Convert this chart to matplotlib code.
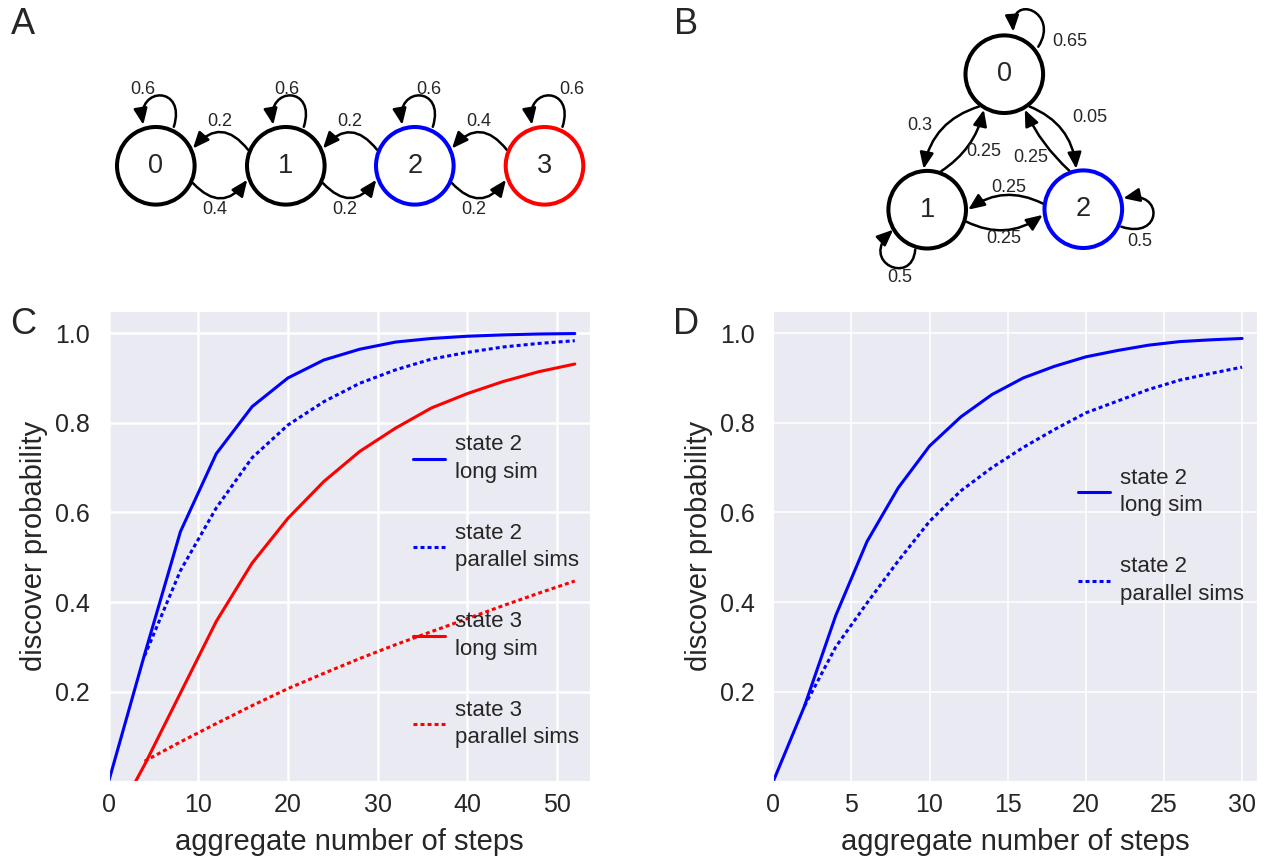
import numpy as np
import matplotlib
matplotlib.use("Agg")
import matplotlib.pyplot as plt
import seaborn as sns
from matplotlib.patches import Circle, FancyArrowPatch
from matplotlib.path import Path

sns.set_style("darkgrid")
plt.rcParams['font.family'] = ['Liberation Sans', 'DejaVu Sans']

# ---- panel C data (chain A) ----
steps_c = [0, 4, 8, 12, 16, 20, 24, 28, 32, 36, 40, 44, 48, 52]
s2_long_c = [0, 0.283, 0.557, 0.731, 0.836, 0.900, 0.940, 0.964, 0.980,
             0.988, 0.993, 0.996, 0.998, 0.999]
steps_par_c = [4, 8, 12, 16, 20, 24, 28, 32, 36, 40, 44, 48, 52]
s2_par_c = [0.28, 0.47, 0.61, 0.722, 0.795, 0.847, 0.888, 0.918, 0.942,
            0.957, 0.969, 0.977, 0.983]
steps_s3_long = [3, 4, 8, 12, 16, 20, 24, 28, 32, 36, 40, 44, 48, 52]
s3_long_c = [0, 0.037, 0.197, 0.357, 0.487, 0.587, 0.669, 0.736, 0.788,
             0.833, 0.865, 0.892, 0.914, 0.931]
s3_par_c = [0.045, 0.088, 0.129, 0.169, 0.207, 0.241, 0.274, 0.305, 0.334,
            0.363, 0.392, 0.420, 0.447]

# ---- panel D data (chain B) ----
steps_d = [0, 2, 4, 6, 8, 10, 12, 14, 16, 18, 20, 22, 24, 26, 28, 30]
s2_long_d = [0, 0.168, 0.37, 0.535, 0.655, 0.748, 0.813, 0.863, 0.900,
             0.926, 0.947, 0.961, 0.973, 0.981, 0.985, 0.988]
steps_par_d = [2, 4, 6, 8, 10, 12, 14, 16, 18, 20, 22, 24, 26, 28, 30]
s2_par_d = [0.168, 0.30, 0.398, 0.492, 0.58, 0.648, 0.700, 0.745, 0.785,
            0.822, 0.848, 0.874, 0.895, 0.910, 0.924]

BLUE = '#0000ff'
RED = '#ff0000'
dots = (1.3, 1.0)

fig = plt.figure(figsize=(12.67, 8.58), dpi=100)

# ---- state diagrams, drawn in pixel units ----
g = fig.add_axes([0, 1 - 300 / 858, 1, 300 / 858])
g.set_xlim(0, 1267)
g.set_ylim(300, 0)
g.axis('off')

R = 38.8
R_EDGE = 41
ARROW = '-|>,head_length=0.75,head_width=0.32'


def node(x, y, label, color='k'):
    g.add_patch(Circle((x, y), R, facecolor='white', edgecolor=color, lw=2.9, zorder=3))
    g.text(x, y, label, ha='center', va='center', fontsize=19.5, zorder=4)


def on_circle(c, ang):
    a = np.deg2rad(ang)
    return (c[0] + R_EDGE * np.cos(a), c[1] - R_EDGE * np.sin(a))


def edge(c1, a1, c2, a2, rad):
    g.add_patch(FancyArrowPatch(on_circle(c1, a1), on_circle(c2, a2),
                                connectionstyle=f'arc3,rad={rad}',
                                arrowstyle=ARROW, mutation_scale=13,
                                shrinkA=0, shrinkB=0, lw=1.8, color='k', zorder=2))


def loop(c, pts):
    verts = [(c[0] + dx, c[1] + dy) for dx, dy in pts]
    path = Path(verts, [Path.MOVETO, Path.CURVE4, Path.CURVE4, Path.CURVE4])
    g.add_patch(FancyArrowPatch(path=path, arrowstyle=ARROW, mutation_scale=13,
                                lw=1.8, color='k', zorder=2))


def elabel(x, y, s):
    g.text(x, y, s, ha='center', va='center', fontsize=13)


# chain A
a_nodes = [(155.8, 165.8), (285.8, 165.8), (414.8, 165.8), (544.5, 165.8)]
a_colors = ['k', 'k', BLUE, RED]
a_self = ['0.6', '0.6', '0.6', '0.6']
a_self_xy = [(143, 89), (287, 89), (429, 89), (572, 89)]
a_left = ['0.2', '0.2', '0.4']
a_right = ['0.4', '0.2', '0.2']
for i, c in enumerate(a_nodes):
    node(c[0], c[1], str(i), a_colors[i])
    loop(c, [(18, -39), (31, -80), (-19, -80), (-12.5, -41)])
    elabel(*a_self_xy[i], a_self[i])
for i in range(3):
    c0, c1 = a_nodes[i], a_nodes[i + 1]
    edge(c1, 157, c0, 25, 0.6)
    edge(c0, -25, c1, -160, 0.6)
    mx = (c0[0] + c1[0]) / 2
    elabel(mx - 1, 122, a_left[i])
    elabel(mx - 6, 209, a_right[i])

# chain B
b0, b1, b2 = (1004.3, 74.2), (927.2, 209.7), (1083.3, 209.2)
node(*b0, '0')
node(*b1, '1')
node(*b2, '2', BLUE)
edge(b0, 232, b1, 95, 0.3)
edge(b1, 70, b0, 240, 0.2)
edge(b0, 308, b2, 100, -0.3)
edge(b2, 110, b0, 300, -0.1)
edge(b2, 172, b1, 0, 0.3)
edge(b1, -17, b2, 188, 0.3)
loop(b0, [(34, -27.5), (56, -62), (6, -82), (9, -42.5)])
loop(b2, [(38, 17.5), (79, 31), (81, -19), (40, -11)])
loop(b1, [(-12, 40), (-15, 77), (-69, 52), (-34, 20)])
elabel(920, 125, '0.3')
elabel(984, 152, '0.25')
elabel(1090, 118, '0.05')
elabel(1031, 157, '0.25')
elabel(1009, 188, '0.25')
elabel(1004, 239, '0.25')
elabel(1070, 42, '0.65')
elabel(1140, 242, '0.5')
elabel(900, 278, '0.5')

# ---- probability curves ----
ax_c = fig.add_axes([0.0858, 0.0893, 0.3799, 0.5486])
ax_d = fig.add_axes([0.6103, 0.0893, 0.3815, 0.5486])

ax_c.plot(steps_c, s2_long_c, color=BLUE, lw=2.2, label='state 2\nlong sim')
ax_c.plot(steps_par_c, s2_par_c, color=BLUE, lw=2.2, dashes=dots,
          label='state 2\nparallel sims')
ax_c.plot(steps_s3_long, s3_long_c, color=RED, lw=2.2, label='state 3\nlong sim')
ax_c.plot(steps_par_c, s3_par_c, color=RED, lw=2.2, dashes=dots,
          label='state 3\nparallel sims')
ax_c.set_xlim(0, 53.7)
ax_c.set_xticks([0, 10, 20, 30, 40, 50])

ax_d.plot(steps_d, s2_long_d, color=BLUE, lw=2.2, label='state 2\nlong sim')
ax_d.plot(steps_par_d, s2_par_d, color=BLUE, lw=2.2, dashes=dots,
          label='state 2\nparallel sims')
ax_d.set_xlim(0, 30.93)
ax_d.set_xticks([0, 5, 10, 15, 20, 25, 30])

for ax, gw, anchor in [(ax_c, 1.8, (0.632, 0.737)), (ax_d, 1.1, (0.630, 0.666))]:
    ax.set_ylim(0, 1.05)
    ax.set_yticks([0.2, 0.4, 0.6, 0.8, 1.0])
    ax.grid(True, color='white', lw=gw)
    ax.tick_params(axis='x', labelsize=18, pad=5)
    ax.tick_params(axis='y', labelsize=18, pad=10)
    ax.set_xlabel('aggregate number of steps', fontsize=21, labelpad=8)
    ax.set_ylabel('discover probability', fontsize=21, labelpad=5)
    leg = ax.legend(loc='upper left', bbox_to_anchor=anchor, frameon=False,
                    fontsize=16, borderpad=0, borderaxespad=0, labelspacing=1.8,
                    handlelength=1.45, handletextpad=0.45)
    for t in leg.get_texts():
        t.set_linespacing(1.4)

for s, x, y in [('A', 23, 25), ('B', 686, 25), ('C', 23, 324), ('D', 686, 324)]:
    fig.text(x / 1267, 1 - y / 858, s, fontsize=26, ha='center', va='center')

fig.savefig('out.png', dpi=100)
